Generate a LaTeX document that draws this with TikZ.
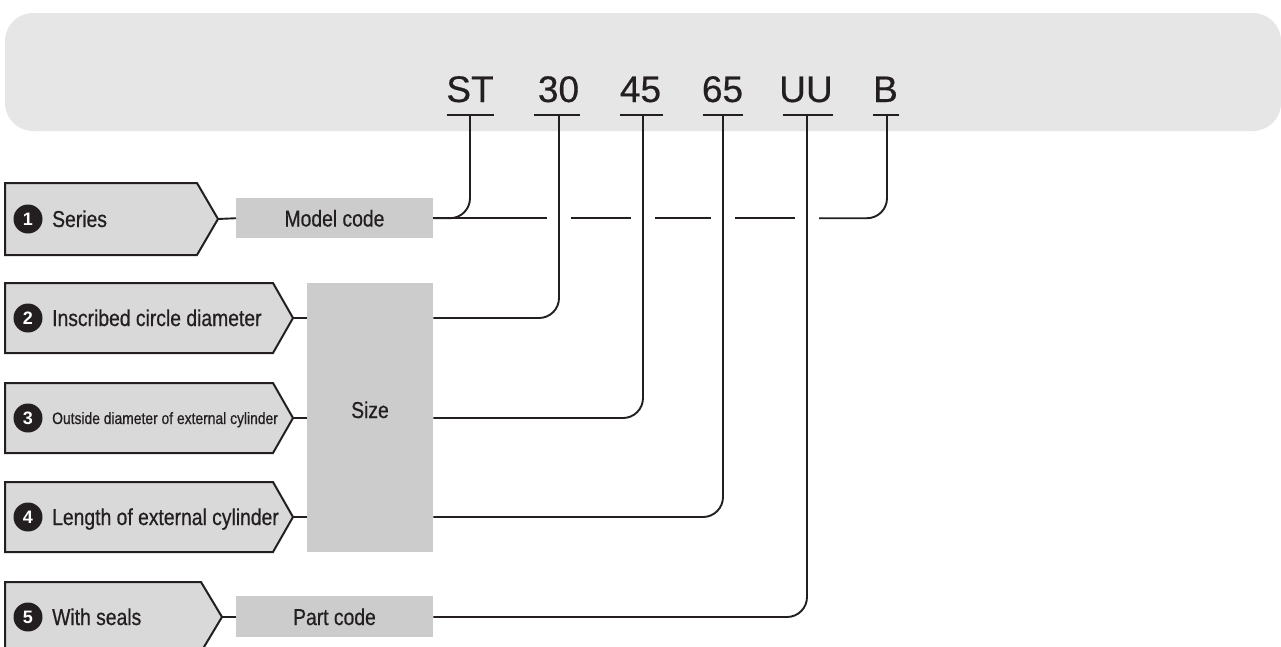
\documentclass[tikz,border=0pt]{standalone}
\usepackage{fontspec}
\setmainfont{Liberation Sans}
\newfontfamily\condf[FakeStretch=0.84, FakeBold=0.6]{Liberation Sans}
\newfontfamily\codef[FakeBold=0.4]{Liberation Sans}
\usetikzlibrary{calc}
\definecolor{ink}{HTML}{231F20}
\definecolor{bandg}{HTML}{E6E6E6}
\definecolor{boxg}{HTML}{CCCCCC}
\definecolor{pentg}{HTML}{D9D9D9}
\tikzset{
  conn/.style={draw=ink, line width=1.9pt, rounded corners=20pt},
  bar/.style={draw=ink, line width=1.9pt},
  pentshape/.style={draw=ink, fill=pentg, line width=2pt, line join=miter},
  graybox/.style={fill=boxg, inner sep=0pt, anchor=north west},
  codetext/.style={text=ink, anchor=base, inner sep=0pt, font=\codef\fontsize{37}{40}\selectfont},
  lbl/.style={text=ink, anchor=base west, inner sep=0pt, font=\condf\fontsize{23}{26}\selectfont},
  boxlbl/.style={text=ink, anchor=base, inner sep=0pt, font=\condf\fontsize{23}{26}\selectfont},
  badge/.style={circle, fill=ink, text=white, minimum size=29pt, inner sep=0pt, font=\bfseries\fontsize{18}{19}\selectfont},
}
\begin{document}
\begin{tikzpicture}[x=1pt,y=-1pt]
\useasboundingbox (0,0) rectangle (1281,646);
\clip (0,0) rectangle (1281,646);
% top band
\fill[bandg, rounded corners=28pt] (5,13) rectangle (1281,131);
% code letters
\node[codetext] (cST) at (470,102) {ST};
\node[codetext] (c30) at (558.5,102) {30};
\node[codetext] (c45) at (640.5,102) {45};
\node[codetext] (c65) at (722.5,102) {65};
\node[codetext] (cUU) at (806,102) {UU};
\node[codetext] (cB) at (885.5,102) {B};
% bar tops
\coordinate (tST) at (470,115);
\coordinate (t30) at (559,115);
\coordinate (t45) at (643,115);
\coordinate (t65) at (723,115);
\coordinate (tUU) at (807,115);
\coordinate (tB) at (887,115);
\draw[bar] (447,115) -- (494,115);
\draw[bar] (534,115) -- (580,115);
\draw[bar] (620,115) -- (663,115);
\draw[bar] (703,115) -- (743,115);
\draw[bar] (783,115) -- (833,115);
\draw[bar] (873,115) -- (899,115);
% pentagons
\draw[pentshape] (5,183) -- (197,183) -- (218,219) -- (197,255) -- (5,255) -- cycle;
\coordinate (p1) at (218,219);
\draw[pentshape] (5,283) -- (273,283) -- (293,318) -- (273,353) -- (5,353) -- cycle;
\coordinate (p2) at (293,318);
\draw[pentshape] (5,383) -- (273,383) -- (293,418) -- (273,453) -- (5,453) -- cycle;
\coordinate (p3) at (293,418);
\draw[pentshape] (5,482) -- (273,482) -- (293,517) -- (273,552) -- (5,552) -- cycle;
\coordinate (p4) at (293,517);
\draw[pentshape] (5,582) -- (201,582) -- (222,617) -- (201,652) -- (5,652) -- cycle;
\coordinate (p5) at (222,617);
% badges and labels
\node[badge] (b1) at (28,219) {1};
\node[lbl] (l1) at (52,227) {Series};
\node[badge] (b2) at (28,318) {2};
\node[lbl] (l2) at (52,326) {Inscribed circle diameter};
\node[badge] (b3) at (28,418) {3};
\node[lbl, font=\condf\fontsize{16.5}{18}\selectfont] (l3) at (52,424) {Outside diameter of external cylinder};
\node[badge] (b4) at (28,517) {4};
\node[lbl] (l4) at (52,525) {Length of external cylinder};
\node[badge] (b5) at (28,617) {5};
\node[lbl] (l5) at (52,625) {With seals};
% gray boxes
\node[graybox, minimum width=197pt, minimum height=40pt] (mc) at (236,198) {};
\node[boxlbl] (mct) at (334.5,226.5) {Model code};
\node[graybox, minimum width=126pt, minimum height=269pt] (size) at (307,283) {};
\node[boxlbl] (st) at (370,418) {Size};
\node[graybox, minimum width=197pt, minimum height=41pt] (pc) at (236,596) {};
\node[boxlbl] (pct) at (334.5,625) {Part code};
% short connectors
\draw[conn] (p1) -- (mc.west);
\draw[conn] (p2) -- (size.west |- p2);
\draw[conn] (p3) -- (size.west |- p3);
\draw[conn] (p4) -- (size.west |- p4);
\draw[conn] (p5) -- (pc.west |- p5);
% code connectors
\draw[conn] (tST) |- (mc.east);
\draw[conn] (mc.east) -- ([xshift=-12pt]t30 |- mc.east);
\draw[conn] ([xshift=12pt]t30 |- mc.east) -- ([xshift=-12pt]t45 |- mc.east);
\draw[conn] ([xshift=12pt]t45 |- mc.east) -- ([xshift=-12pt]t65 |- mc.east);
\draw[conn] ([xshift=12pt]t65 |- mc.east) -- ([xshift=-12pt]tUU |- mc.east);
\draw[conn] ([xshift=12pt]tUU |- mc.east) -| (tB);
\draw[conn] (t30) |- (size.east |- p2);
\draw[conn] (t45) |- (size.east |- p3);
\draw[conn] (t65) |- (size.east |- p4);
\draw[conn] (tUU) |- (pc.east |- p5);
\end{tikzpicture}
\end{document}
